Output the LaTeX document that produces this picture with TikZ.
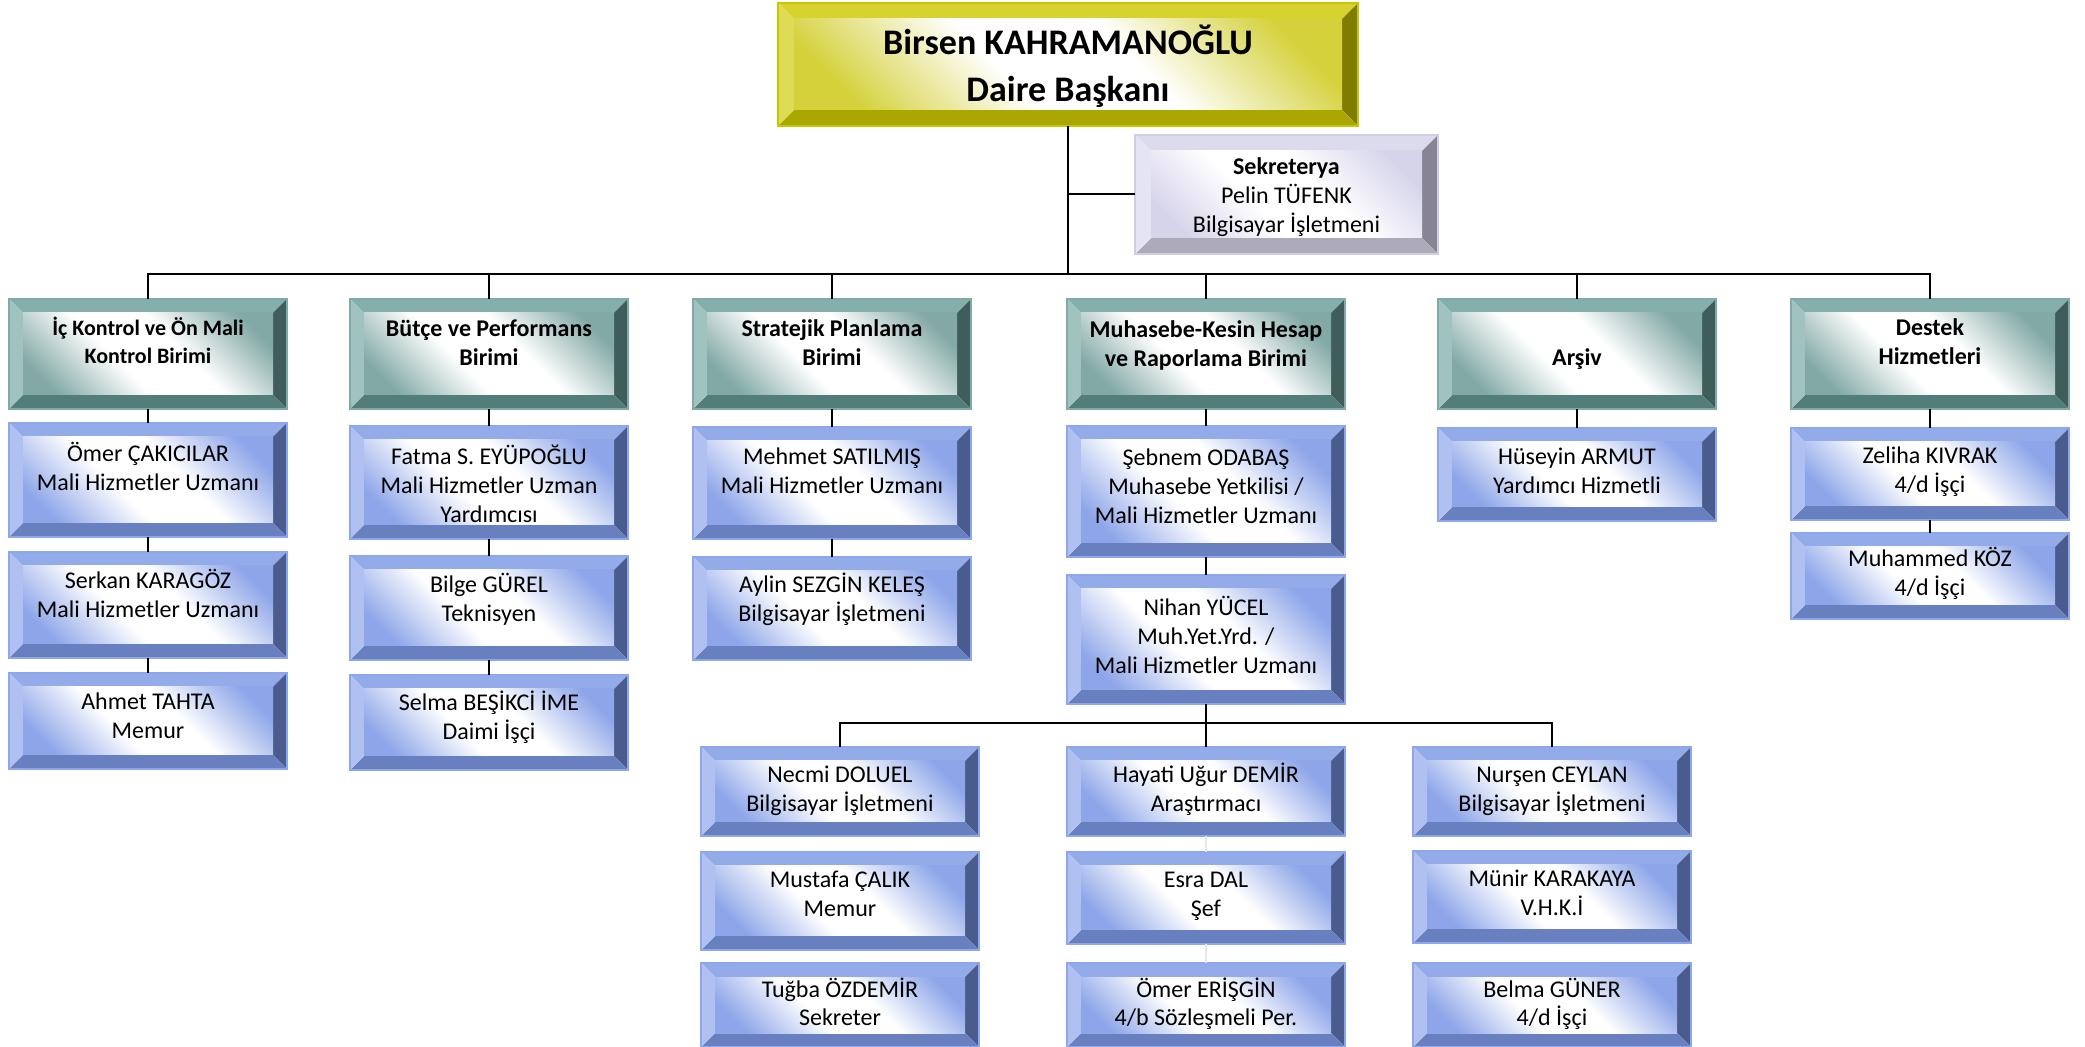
\documentclass[tikz,border=0pt]{standalone}
\usepackage{fontspec}
\setmainfont{Carlito}
\definecolor{tTop}{HTML}{84AFAB}
\definecolor{tLeft}{HTML}{A0C3BF}
\definecolor{tRight}{HTML}{3F5E5B}
\definecolor{tBot}{HTML}{537D79}
\definecolor{tFace}{HTML}{82A9A5}
\definecolor{tOut}{HTML}{7FAAA6}
\definecolor{bTop}{HTML}{94ABEA}
\definecolor{bLeft}{HTML}{B0C1F1}
\definecolor{bRight}{HTML}{4A5C8D}
\definecolor{bBot}{HTML}{6880BF}
\definecolor{bFace}{HTML}{8EA6E9}
\definecolor{bOut}{HTML}{8DA7EE}
\definecolor{yTop}{HTML}{D6D32E}
\definecolor{yLeft}{HTML}{DEDC55}
\definecolor{yRight}{HTML}{7F7C00}
\definecolor{yBot}{HTML}{AAA700}
\definecolor{yFace}{HTML}{D4D13A}
\definecolor{yOut}{HTML}{C9C600}
\definecolor{lTop}{HTML}{DCDBEE}
\definecolor{lLeft}{HTML}{E5E4F3}
\definecolor{lRight}{HTML}{878594}
\definecolor{lBot}{HTML}{ADABBA}
\definecolor{lFace}{HTML}{D6D4EA}
\definecolor{lOut}{HTML}{D0CEE4}
\definecolor{faintline}{HTML}{E6E6E6}
\colorlet{bxFaceC}{bFace}
\pgfdeclareverticalshading[bxFaceC]{bevface}{100bp}{color(0bp)=(bxFaceC); color(22bp)=(bxFaceC); color(42bp)=(white); color(58bp)=(white); color(78bp)=(bxFaceC); color(100bp)=(bxFaceC)}
\tikzset{
  bx/.style={inner sep=0pt, outer sep=0pt, anchor=north west, draw=\bxOut, line width=0.6pt,
    path picture={
      \fill[\bxTop] (path picture bounding box.north west) -- (path picture bounding box.north east) -- ([xshift=-\bxSz,yshift=-\bxSz]path picture bounding box.north east) -- ([xshift=\bxSz,yshift=-\bxSz]path picture bounding box.north west) -- cycle;
      \fill[\bxRight] (path picture bounding box.north east) -- (path picture bounding box.south east) -- ([xshift=-\bxSz,yshift=\bxSz]path picture bounding box.south east) -- ([xshift=-\bxSz,yshift=-\bxSz]path picture bounding box.north east) -- cycle;
      \fill[\bxBot] (path picture bounding box.south east) -- (path picture bounding box.south west) -- ([xshift=\bxSz,yshift=\bxSz]path picture bounding box.south west) -- ([xshift=-\bxSz,yshift=\bxSz]path picture bounding box.south east) -- cycle;
      \fill[\bxLeft] (path picture bounding box.south west) -- (path picture bounding box.north west) -- ([xshift=\bxSz,yshift=-\bxSz]path picture bounding box.north west) -- ([xshift=\bxSz,yshift=\bxSz]path picture bounding box.south west) -- cycle;
      \colorlet{bxFaceC}{\bxFace}
      \shade[shading=bevface, shading angle=-45] ([xshift=\bxSz,yshift=-\bxSz]path picture bounding box.north west) rectangle ([xshift=-\bxSz,yshift=\bxSz]path picture bounding box.south east);
    }},
  hbox/.style={/utils/exec={\def\bxTop{tTop}\def\bxLeft{tLeft}\def\bxRight{tRight}\def\bxBot{tBot}\def\bxFace{tFace}\def\bxOut{tOut}\def\bxSz{7pt}}, bx, font=\bfseries\fontsize{12}{14.3}\selectfont},
  pbox/.style={/utils/exec={\def\bxTop{bTop}\def\bxLeft{bLeft}\def\bxRight{bRight}\def\bxBot{bBot}\def\bxFace{bFace}\def\bxOut{bOut}\def\bxSz{7pt}}, bx, font=\fontsize{12}{14.3}\selectfont},
  ybox/.style={/utils/exec={\def\bxTop{yTop}\def\bxLeft{yLeft}\def\bxRight{yRight}\def\bxBot{yBot}\def\bxFace{yFace}\def\bxOut{yOut}\def\bxSz{8pt}}, bx, font=\bfseries\fontsize{18}{23.5}\selectfont},
  lbox/.style={/utils/exec={\def\bxTop{lTop}\def\bxLeft{lLeft}\def\bxRight{lRight}\def\bxBot{lBot}\def\bxFace{lFace}\def\bxOut{lOut}\def\bxSz{8pt}}, bx, font=\fontsize{12}{14.5}\selectfont},
  conn/.style={draw=black, line width=1pt},
  faint/.style={draw=faintline, line width=1pt}
}
% name, style, x, y, w, h, first baseline (pt), text  (x,y,w,h in px)
\newcommand\orgbox[8]{\node[#2] (#1) at (#3,#4) {\begin{minipage}[c][\dimexpr#6pt/2\relax][t]{\dimexpr#5pt/2\relax}\centering\rule{0pt}{#7pt}#8\end{minipage}};}
\begin{document}
\begin{tikzpicture}[x=0.5pt,y=-0.5pt]
\useasboundingbox (0,0) rectangle (2085,1047);
% boxes
\orgbox{top}{ybox}{778}{3}{580}{123}{25.8}{Birsen KAHRAMANOĞLU\\Daire Başkanı}
\orgbox{sek}{lbox}{1135}{135}{303}{119}{20}{\textbf{Sekreterya}\\Pelin TÜFENK\\Bilgisayar İşletmeni}
\orgbox{h1}{hbox,font=\bfseries\fontsize{11}{14}\selectfont}{9}{299}{278}{110}{18.5}{İç Kontrol ve Ön Mali\\Kontrol Birimi}
\orgbox{h2}{hbox}{350}{299}{278}{110}{19}{Bütçe ve Performans\\Birimi}
\orgbox{h3}{hbox}{693}{299}{278}{110}{19}{Stratejik Planlama\\Birimi}
\orgbox{h4}{hbox}{1067}{299}{278}{110}{19.5}{Muhasebe-Kesin Hesap\\ve Raporlama Birimi}
\orgbox{h5}{hbox}{1438}{299}{278}{110}{33.5}{Arşiv}
\orgbox{h6}{hbox}{1791}{299}{278}{110}{18.5}{Destek\\Hizmetleri}
\orgbox{p1a}{pbox}{9}{423}{278}{114}{19.5}{Ömer ÇAKICILAR\\Mali Hizmetler Uzmanı}
\orgbox{p1b}{pbox}{9}{552}{278}{106}{18.5}{Serkan KARAGÖZ\\Mali Hizmetler Uzmanı}
\orgbox{p1c}{pbox}{9}{673}{278}{96}{18.5}{Ahmet TAHTA\\Memur}
\orgbox{p2a}{pbox}{350}{426}{278}{113}{19.5}{Fatma S. EYÜPOĞLU\\Mali Hizmetler Uzman\\Yardımcısı}
\orgbox{p2b}{pbox}{350}{556}{278}{104}{18.5}{Bilge GÜREL\\Teknisyen}
\orgbox{p2c}{pbox}{350}{675}{278}{95}{18}{Selma BEŞİKCİ İME\\Daimi İşçi}
\orgbox{p3a}{pbox}{693}{427}{278}{112}{19}{Mehmet SATILMIŞ\\Mali Hizmetler Uzmanı}
\orgbox{p3b}{pbox}{693}{557}{278}{103}{18}{Aylin SEZGİN KELEŞ\\Bilgisayar İşletmeni}
\orgbox{p4a}{pbox}{1067}{426}{278}{131}{20}{Şebnem ODABAŞ\\Muhasebe Yetkilisi /\\Mali Hizmetler Uzmanı}
\orgbox{p4b}{pbox}{1067}{575}{278}{129}{20.5}{Nihan YÜCEL\\Muh.Yet.Yrd. /\\Mali Hizmetler Uzmanı}
\orgbox{p5a}{pbox}{1438}{428}{278}{93}{18.5}{Hüseyin ARMUT\\Yardımcı Hizmetli}
\orgbox{p6a}{pbox}{1791}{428}{278}{92}{18}{Zeliha KIVRAK\\4/d İşçi}
\orgbox{p6b}{pbox}{1791}{533}{278}{86}{17}{Muhammed KÖZ\\4/d İşçi}
\orgbox{s1a}{pbox}{701}{747}{278}{89}{18}{Necmi DOLUEL\\Bilgisayar İşletmeni}
\orgbox{s1b}{pbox}{701}{852}{278}{98}{18}{Mustafa ÇALIK\\Memur}
\orgbox{s1c}{pbox}{701}{963}{278}{84}{17}{Tuğba ÖZDEMİR\\Sekreter}
\orgbox{s2a}{pbox}{1067}{747}{278}{89}{18}{Hayati Uğur DEMİR\\Araştırmacı}
\orgbox{s2b}{pbox}{1067}{852}{278}{92}{18}{Esra DAL\\Şef}
\orgbox{s2c}{pbox}{1067}{963}{278}{84}{17}{Ömer ERİŞGİN\\4/b Sözleşmeli Per.}
\orgbox{s3a}{pbox}{1413}{747}{278}{89}{18}{Nurşen CEYLAN\\Bilgisayar İşletmeni}
\orgbox{s3b}{pbox}{1413}{851}{278}{92}{18}{Münir KARAKAYA\\V.H.K.İ}
\orgbox{s3c}{pbox}{1413}{963}{278}{84}{17}{Belma GÜNER\\4/d İşçi}
% connectors
\coordinate (busy) at (0,274);
\coordinate (subbusy) at (0,723);
\draw[conn] (top.south) -- (top.south |- busy);
\draw[conn] (sek.west) -- (sek.west -| top.south);
\draw[conn] (h1.north) -- (h1.north |- busy) -- (h6.north |- busy) -- (h6.north);
\foreach \h in {h2,h3,h4,h5} {\draw[conn] (\h.north |- busy) -- (\h.north);}
\draw[conn] (h1.south) -- (p1a.north);
\draw[conn] (p1a.south) -- (p1b.north);
\draw[conn] (p1b.south) -- (p1c.north);
\draw[conn] (h2.south) -- (p2a.north);
\draw[conn] (p2a.south) -- (p2b.north);
\draw[conn] (p2b.south) -- (p2c.north);
\draw[conn] (h3.south) -- (p3a.north);
\draw[conn] (p3a.south) -- (p3b.north);
\draw[conn] (h4.south) -- (p4a.north);
\draw[conn] (p4a.south) -- (p4b.north);
\draw[conn] (h5.south) -- (p5a.north);
\draw[conn] (h6.south) -- (p6a.north);
\draw[conn] (p6a.south) -- (p6b.north);
\draw[conn] (p4b.south) -- (p4b.south |- subbusy);
\draw[conn] (s1a.north) -- (s1a.north |- subbusy) -- (s3a.north |- subbusy) -- (s3a.north);
\draw[conn] (s2a.north |- subbusy) -- (s2a.north);
\draw[faint] (s2a.south) -- (s2b.north);
\draw[faint] (s2b.south) -- (s2c.north);
\end{tikzpicture}
\end{document}
